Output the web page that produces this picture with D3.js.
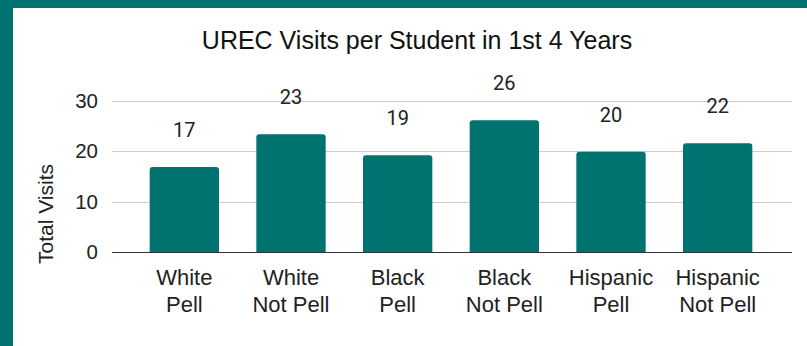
<!DOCTYPE html>
<html>
<head>
<meta charset="utf-8">
<script src="https://cdn.jsdelivr.net/npm/d3@7.9.0/dist/d3.min.js"></script>
<style>
  html, body { margin: 0; padding: 0; background: #fff; }
  svg { display: block; }
</style>
</head>
<body>
<div id="chart"></div>
<script>
// data
const groups = [["White", "Pell"], ["White", "Not Pell"], ["Black", "Pell"],
                ["Black", "Not Pell"], ["Hispanic", "Pell"], ["Hispanic", "Not Pell"]];
const visits = [16.9, 23.4, 19.2, 26.2, 19.9, 21.6];
const yTicks = [0, 10, 20, 30];

const W = 807, H = 346;
const TEAL = "#007370";
const PLOT = { left: 112, right: 792, top: 101, bottom: 252 };

const svg = d3.select("#chart").append("svg")
  .attr("width", W)
  .attr("height", H);

// frame (top and left bands)
svg.append("rect").attr("x", 0).attr("y", 0).attr("width", W).attr("height", 8).attr("fill", TEAL);
svg.append("rect").attr("x", 0).attr("y", 0).attr("width", 13).attr("height", H).attr("fill", TEAL);

const x = d3.scaleBand()
  .domain(d3.range(groups.length))
  .range([131, 771])
  .paddingInner(0.35)
  .paddingOuter(0.175);

const y = d3.scaleLinear().domain([0, 30]).range([PLOT.bottom, PLOT.top]);

// gridlines
svg.append("g")
  .selectAll("line")
  .data(yTicks.filter(d => d > 0))
  .join("line")
  .attr("x1", PLOT.left).attr("x2", PLOT.right)
  .attr("y1", d => Math.round(y(d)) + 0.5).attr("y2", d => Math.round(y(d)) + 0.5)
  .attr("stroke", "#cccccc")
  .attr("stroke-width", 1);

// y tick labels
svg.append("g")
  .selectAll("text")
  .data(yTicks)
  .join("text")
  .attr("x", 98)
  .attr("y", d => y(d) + 7)
  .attr("text-anchor", "end")
  .attr("font-family", "Liberation Sans, Arial, sans-serif")
  .attr("font-size", 20.5)
  .attr("fill", "#222")
  .text(d => d);

// bars with rounded top corners
const r = 3;
function barPath(i) {
  const x0 = x(i), w = x.bandwidth(), y0 = y(visits[i]), yb = y(0);
  return `M${x0},${yb}V${y0 + r}Q${x0},${y0} ${x0 + r},${y0}H${x0 + w - r}Q${x0 + w},${y0} ${x0 + w},${y0 + r}V${yb}Z`;
}
svg.append("g")
  .selectAll("path")
  .data(visits)
  .join("path")
  .attr("d", (d, i) => barPath(i))
  .attr("fill", TEAL);

// baseline
svg.append("line")
  .attr("x1", PLOT.left).attr("x2", PLOT.right)
  .attr("y1", y(0) + 0.5).attr("y2", y(0) + 0.5)
  .attr("stroke", "#333")
  .attr("stroke-width", 1.2);

// value labels
svg.append("g")
  .selectAll("text")
  .data(visits)
  .join("text")
  .attr("x", (d, i) => x(i) + x.bandwidth() / 2)
  .attr("y", d => y(d) - 30)
  .attr("text-anchor", "middle")
  .attr("font-family", "Roboto, sans-serif")
  .attr("font-size", 20)
  .attr("fill", "#222")
  .text(d => Math.round(d));

// category labels, two lines each
const cat = svg.append("g")
  .selectAll("text")
  .data(groups)
  .join("text")
  .attr("text-anchor", "middle")
  .attr("font-family", "Liberation Sans, Arial, sans-serif")
  .attr("font-size", 22)
  .attr("fill", "#222");
cat.append("tspan")
  .attr("x", (d, i) => x(i) + x.bandwidth() / 2)
  .attr("y", 285)
  .text(d => d[0]);
cat.append("tspan")
  .attr("x", (d, i) => x(i) + x.bandwidth() / 2)
  .attr("y", 312)
  .text(d => d[1]);

// axis title
svg.append("text")
  .attr("transform", "translate(53,214) rotate(-90)")
  .attr("text-anchor", "middle")
  .attr("font-family", "Liberation Sans, Arial, sans-serif")
  .attr("font-size", 21)
  .attr("fill", "#222")
  .text("Total Visits");

// title
svg.append("text")
  .attr("x", 417)
  .attr("y", 49)
  .attr("text-anchor", "middle")
  .attr("font-family", "Liberation Sans, Arial, sans-serif")
  .attr("font-size", 25)
  .attr("fill", "#111")
  .text("UREC Visits per Student in 1st 4 Years");
</script>
</body>
</html>
